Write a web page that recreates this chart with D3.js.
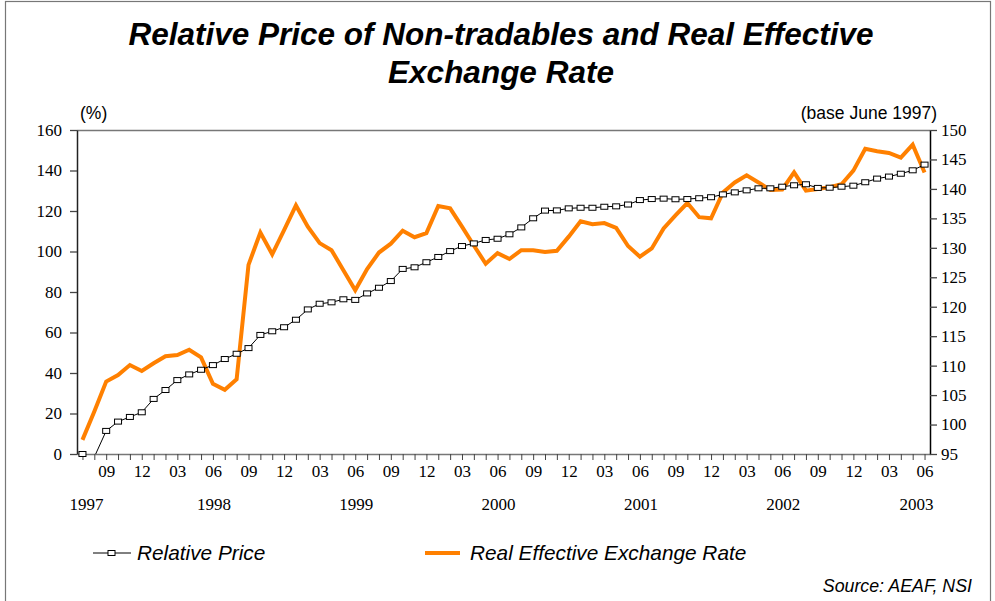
<!DOCTYPE html>
<html>
<head>
<meta charset="utf-8">
<script src="https://cdn.jsdelivr.net/npm/d3@7"></script>
<style>
  body { margin: 0; background: #fff; }
  svg { display: block; }
</style>
</head>
<body>
<svg id="chart" width="995" height="601"></svg>
<script>
// monthly observations, Jul 1997 .. Jun 2003
const months = d3.timeMonth.range(new Date(1997, 6, 1), new Date(2003, 6, 1));

// second value sits just under zero in the source, so it is hidden by the axis
const relPrice = [
  0, -1.5, 11.4, 16, 18.3, 20.6, 27.2, 31.6, 36.5, 39.3, 41.6, 43.9,
  46.9, 49.5, 52.3, 58.8, 60.6, 62.6, 66.3, 71.4, 74.2, 74.9, 76.4, 76.1,
  79.3, 82.1, 85.4, 91.4, 92.2, 94.7, 97.3, 100.2, 102.7, 104, 105.7, 106.3,
  108.5, 111.9, 116.4, 120.2, 120.3, 121.3, 121.6, 121.6, 122.1, 122.3, 123.2, 125.4,
  125.9, 126.1, 125.8, 125.9, 126.3, 126.8, 128.2, 129.2, 130.2, 131.2, 131.2, 132,
  132.7, 133.2, 131.4, 131.5, 132, 132.5, 134.2, 136, 137, 138.4, 140.1, 142.9
];

const reer = [
  97.4, 102.2, 107.3, 108.4, 110.1, 109.1, 110.4, 111.6, 111.8, 112.7, 111.4, 106.9,
  105.9, 107.7, 127.1, 132.6, 128.9, 133, 137.2, 133.6, 130.8, 129.6, 126.2, 122.8,
  126.4, 129.2, 130.7, 132.9, 131.8, 132.5, 137.1, 136.7, 133.6, 130.4, 127.3, 129.1,
  128.1, 129.6, 129.6, 129.3, 129.5, 131.9, 134.5, 134.0, 134.2, 133.4, 130.3, 128.5,
  129.9, 133.3, 135.5, 137.6, 135.2, 135.0, 139.4, 141.1, 142.3, 141.1, 139.8, 139.9,
  142.8, 139.7, 140.0, 140.3, 140.8, 143.1, 146.8, 146.4, 146.1, 145.3, 147.5, 142.8
];

const leftTicks = [0, 20, 40, 60, 80, 100, 120, 140, 160];
const rightTicks = [95, 100, 105, 110, 115, 120, 125, 130, 135, 140, 145, 150];
const years = ['1997', '1998', '1999', '2000', '2001', '2002', '2003'];

const serif = '"Liberation Serif", "Times New Roman", serif';
const sans = '"Liberation Sans", Arial, sans-serif';

const svg = d3.select('#chart');
const margin = { top: 130, right: 65, bottom: 147, left: 77 };
const width = 995 - margin.left - margin.right;
const height = 601 - margin.top - margin.bottom;

const idx = months.map((d, i) => i);
const xScale = d3.scalePoint().domain(idx).range([0, width]).padding(0.46);
const yLeft = d3.scaleLinear().domain([0, 160]).range([height, 0]);
const yRight = d3.scaleLinear().domain([95, 150]).range([height, 0]);

// outer frame
svg.append('rect')
  .attr('x', 5.5).attr('y', 1.5)
  .attr('width', 985).attr('height', 620)
  .attr('fill', 'none').attr('stroke', '#777').attr('stroke-width', 1.2);

// title
const title = svg.append('text')
  .attr('text-anchor', 'middle')
  .attr('font-family', sans)
  .attr('font-weight', 'bold').attr('font-style', 'italic')
  .attr('font-size', 31.5);
title.append('tspan').attr('x', 501).attr('y', 45).text('Relative Price of Non-tradables and Real Effective');
title.append('tspan').attr('x', 501).attr('y', 83).text('Exchange Rate');

svg.append('text')
  .attr('x', 80).attr('y', 119)
  .attr('font-family', sans).attr('font-size', 17.5)
  .text('(%)');
svg.append('text')
  .attr('x', 937).attr('y', 119).attr('text-anchor', 'end')
  .attr('font-family', sans).attr('font-size', 17.5)
  .text('(base June 1997)');

const g = svg.append('g').attr('transform', `translate(${margin.left},${margin.top})`);

g.append('clipPath').attr('id', 'plot-clip')
  .append('rect').attr('width', width).attr('height', height);

// top border of plot
g.append('line')
  .attr('x1', 0).attr('x2', width).attr('y1', 0.5).attr('y2', 0.5)
  .attr('stroke', '#777').attr('stroke-width', 1.5);

// x axis: monthly ticks, labels every quarter
const xAxis = d3.axisBottom(xScale)
  .tickSizeInner(6).tickSizeOuter(0).tickPadding(5)
  .tickFormat(i => (months[i].getMonth() + 1) % 3 === 0 ? d3.timeFormat('%m')(months[i]) : '');
const gx = g.append('g').attr('transform', `translate(0,${height})`).call(xAxis);
gx.attr('font-family', serif).attr('font-size', 17);
gx.select('.domain').attr('stroke', '#777').attr('stroke-width', 1.5);
gx.selectAll('.tick line').attr('stroke', '#444');

// year labels under each June (first and last sit near the plot edges)
const yearIdx = years.map(y => {
  const i = months.findIndex(m => m.getFullYear() === +y && m.getMonth() === 5);
  return i < 0 ? 0 : i;
});
g.append('g').selectAll('text')
  .data(years)
  .join('text')
  .attr('x', (d, k) => xScale(yearIdx[k]) + (k === 0 ? 4 : k === years.length - 1 ? -8 : 1))
  .attr('y', height + 56)
  .attr('text-anchor', 'middle')
  .attr('font-family', serif)
  .attr('font-size', 17)
  .text(d => d);

// left axis
const gl = g.append('g')
  .call(d3.axisLeft(yLeft).tickValues(leftTicks).tickSizeInner(7).tickSizeOuter(0).tickPadding(8));
gl.attr('font-family', serif).attr('font-size', 17);
gl.select('.domain').attr('stroke', '#222').attr('stroke-width', 1.5);
gl.selectAll('.tick line').attr('stroke', '#444').attr('stroke-width', 1.3);

// right axis
const gr = g.append('g').attr('transform', `translate(${width},0)`)
  .call(d3.axisRight(yRight).tickValues(rightTicks).tickSizeInner(7).tickSizeOuter(0).tickPadding(4));
gr.attr('font-family', serif).attr('font-size', 17);
gr.select('.domain').attr('stroke', '#000').attr('stroke-width', 1.5);
gr.selectAll('.tick line').attr('stroke', '#444').attr('stroke-width', 1.3);

// REER line (right axis)
const reerLine = d3.line()
  .x((d, i) => xScale(i))
  .y(d => yRight(d));
g.append('path')
  .datum(reer)
  .attr('d', reerLine)
  .attr('fill', 'none')
  .attr('stroke', '#ff8000')
  .attr('stroke-width', 4)
  .attr('stroke-linejoin', 'miter');

// relative price line (left axis) with square markers
const relLine = d3.line()
  .x((d, i) => xScale(i))
  .y(d => yLeft(d));
g.append('path')
  .datum(relPrice)
  .attr('d', relLine)
  .attr('clip-path', 'url(#plot-clip)')
  .attr('fill', 'none')
  .attr('stroke', '#000')
  .attr('stroke-width', 1);
g.append('g').selectAll('rect')
  .data(relPrice.map((v, i) => ({ v, i })).filter(d => d.v >= 0))
  .join('rect')
  .attr('x', d => xScale(d.i) - 3.5)
  .attr('y', d => yLeft(d.v) - 2.5)
  .attr('width', 7).attr('height', 5)
  .attr('fill', '#fff')
  .attr('stroke', '#000')
  .attr('stroke-width', 1);

// legend
const legend = svg.append('g')
  .attr('font-family', sans)
  .attr('font-style', 'italic')
  .attr('font-size', 20.8);
legend.append('line')
  .attr('x1', 93).attr('x2', 131).attr('y1', 553).attr('y2', 553)
  .attr('stroke', '#000').attr('stroke-width', 1);
legend.append('rect')
  .attr('x', 108).attr('y', 550.5).attr('width', 7).attr('height', 5)
  .attr('fill', '#fff').attr('stroke', '#000');
legend.append('text').attr('x', 137).attr('y', 560).text('Relative Price');
legend.append('line')
  .attr('x1', 425).attr('x2', 460).attr('y1', 553).attr('y2', 553)
  .attr('stroke', '#ff8000').attr('stroke-width', 4);
legend.append('text').attr('x', 470).attr('y', 560).text('Real Effective Exchange Rate');

svg.append('text')
  .attr('x', 972).attr('y', 592).attr('text-anchor', 'end')
  .attr('font-family', sans)
  .attr('font-style', 'italic').attr('font-size', 17.8)
  .text('Source: AEAF, NSI');
</script>
</body>
</html>
